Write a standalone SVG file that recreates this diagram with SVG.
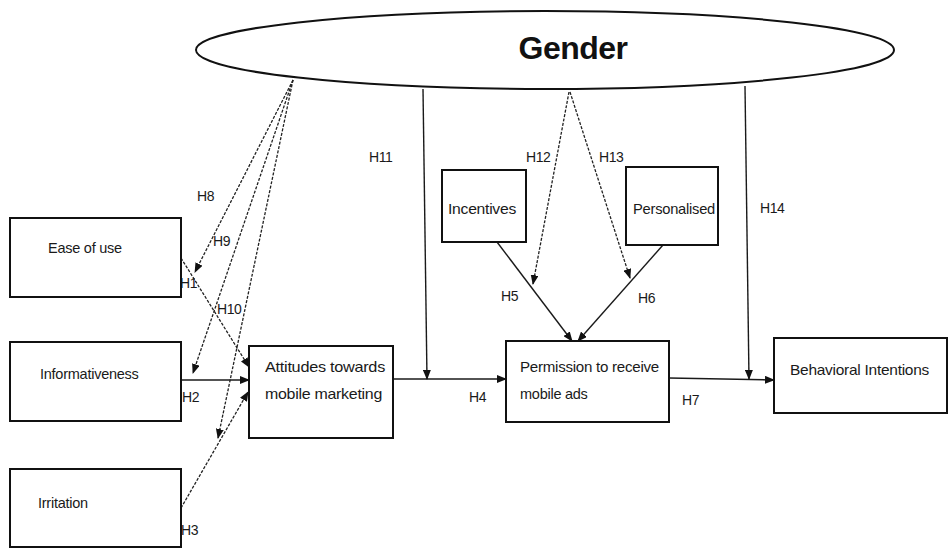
<svg xmlns="http://www.w3.org/2000/svg" width="949" height="548" viewBox="0 0 949 548">
<style>
.box{fill:#fff;stroke:#111;stroke-width:2}
.t{font-family:"Liberation Sans",Arial,sans-serif;font-size:14.5px;fill:#1a1a1a;letter-spacing:-0.25px}
.lbl{font-family:"Liberation Sans",Arial,sans-serif;font-size:14px;fill:#1a1a1a;letter-spacing:-0.4px}
.ln{fill:none;stroke:#1a1a1a;stroke-width:1.4}
.dl{fill:none;stroke:#222;stroke-width:1.3;stroke-dasharray:3 1.5}
</style>
<defs>
<marker id="ah" markerWidth="10" markerHeight="8" refX="9" refY="4" orient="auto" markerUnits="userSpaceOnUse">
<path d="M0,0 L10,4 L0,8 Z" fill="#111"/>
</marker>
</defs>
<rect width="949" height="548" fill="#fff"/>
<g id="gender">
<ellipse cx="545" cy="50" rx="349" ry="39" fill="#fff" stroke="#111" stroke-width="2"/>
<text x="573" y="59" text-anchor="middle" style="font-family:'Liberation Sans',Arial,sans-serif;font-size:32px;font-weight:bold;fill:#111;letter-spacing:-0.5px">Gender</text>
</g>
<g id="connectors">
<line class="ln" x1="181" y1="380" x2="249" y2="380" marker-end="url(#ah)"/>
<line class="ln" x1="393" y1="379" x2="506" y2="379" marker-end="url(#ah)"/>
<line class="ln" x1="669" y1="378" x2="774" y2="380" marker-end="url(#ah)"/>
<line class="ln" x1="423" y1="89" x2="427" y2="379" marker-end="url(#ah)"/>
<line class="ln" x1="745" y1="86" x2="749" y2="379" marker-end="url(#ah)"/>
<line class="dl" x1="569" y1="92" x2="533" y2="284" marker-end="url(#ah)"/>
<line class="dl" x1="570" y1="92" x2="630" y2="278" marker-end="url(#ah)"/>
<line class="ln" x1="497" y1="242" x2="572" y2="341" marker-end="url(#ah)"/>
<line class="ln" x1="663" y1="245" x2="578" y2="341" marker-end="url(#ah)"/>
<line class="dl" x1="293" y1="80" x2="195" y2="272" marker-end="url(#ah)"/>
<line class="dl" x1="293" y1="80" x2="193" y2="373" marker-end="url(#ah)"/>
<line class="dl" x1="293" y1="80" x2="218" y2="438" marker-end="url(#ah)"/>
<line class="dl" x1="181" y1="258" x2="249" y2="367" marker-end="url(#ah)"/>
<line class="dl" x1="181" y1="508" x2="248" y2="392" marker-end="url(#ah)"/>
</g>
<g id="labels">
<text class="lbl" x="197" y="201">H8</text>
<text class="lbl" x="213" y="246">H9</text>
<text class="lbl" x="180" y="288">H1</text>
<text class="lbl" x="217" y="314">H10</text>
<text class="lbl" x="182" y="402">H2</text>
<text class="lbl" x="181" y="535">H3</text>
<text class="lbl" x="369" y="162">H11</text>
<text class="lbl" x="526" y="162">H12</text>
<text class="lbl" x="599" y="162">H13</text>
<text class="lbl" x="760" y="213">H14</text>
<text class="lbl" x="501" y="301">H5</text>
<text class="lbl" x="638" y="303">H6</text>
<text class="lbl" x="469" y="402">H4</text>
<text class="lbl" x="682" y="405">H7</text>
</g>
<g id="ease">
<rect class="box" x="10" y="218" width="171" height="79"/>
<text class="t" x="48" y="253">Ease of use</text>
</g>
<g id="info">
<rect class="box" x="10" y="342" width="171" height="79"/>
<text class="t" x="40" y="379">Informativeness</text>
</g>
<g id="irritation">
<rect class="box" x="10" y="469" width="171" height="78"/>
<text class="t" x="38" y="508">Irritation</text>
</g>
<g id="attitudes">
<rect class="box" x="249" y="346" width="144" height="92"/>
<text class="t" x="265" y="372" textLength="120" lengthAdjust="spacingAndGlyphs">Attitudes towards</text>
<text class="t" x="265" y="399" textLength="117" lengthAdjust="spacingAndGlyphs">mobile marketing</text>
</g>
<g id="incentives">
<rect class="box" x="442" y="170" width="84" height="72"/>
<text class="t" x="448" y="214" textLength="68" lengthAdjust="spacingAndGlyphs">Incentives</text>
</g>
<g id="personalised">
<rect class="box" x="626" y="167" width="92" height="78"/>
<text class="t" x="633" y="214" textLength="82" lengthAdjust="spacingAndGlyphs">Personalised</text>
</g>
<g id="permission">
<rect class="box" x="506" y="341" width="163" height="81"/>
<text class="t" x="520" y="372" textLength="139" lengthAdjust="spacingAndGlyphs">Permission to receive</text>
<text class="t" x="520" y="399">mobile ads</text>
</g>
<g id="behavioral">
<rect class="box" x="774" y="338" width="173" height="75"/>
<text class="t" x="790" y="375" textLength="139" lengthAdjust="spacingAndGlyphs">Behavioral Intentions</text>
</g>
</svg>
